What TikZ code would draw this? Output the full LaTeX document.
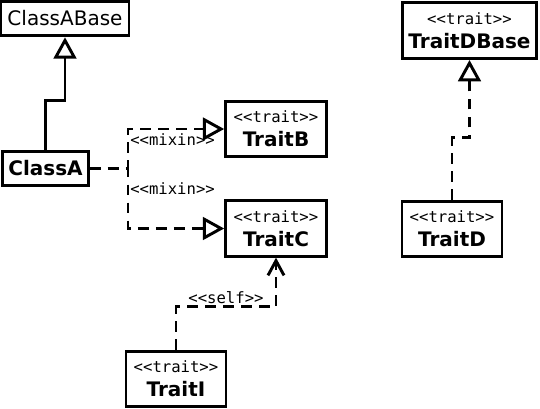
\documentclass[tikz,border=0pt]{standalone}
\usepackage{fontspec}
\setmainfont{DejaVu Sans}
\newfontfamily\monof{DejaVu Sans Mono}
\usetikzlibrary{arrows.meta}
\tikzset{
  cls/.style={draw, line width=2.2pt, inner sep=0pt, align=center, fill=white,
    font={\fontsize{15}{17}\selectfont}},
  lbl/.style={font={\monof\fontsize{11.7}{14}\selectfont}, inner sep=0pt},
  conn/.style={line width=2.2pt},
  dash7/.style={dash pattern=on 8pt off 5.5pt},
  gen/.style={-{Triangle[open, length=16pt, width=17pt, line width=2.2pt]}},
  dep/.style={-{Straight Barb[length=11pt, width=12pt, line width=2.2pt]}},
}
\newcommand{\stname}[1]{{\monof\fontsize{11.7}{14}\selectfont <<trait>>}\\[1pt]{\bfseries #1}}
\begin{document}
\begin{tikzpicture}[x=0.75pt, y=-0.75pt]
\useasboundingbox (0,0) rectangle (540,408);
\node[cls, minimum width=96pt, minimum height=26pt] (ClassABase) at (65,18.5) {ClassABase};
\node[cls, minimum width=64.5pt, minimum height=26pt, font={\fontsize{15}{17}\selectfont\bfseries}] (ClassA) at (45.5,168.5) {ClassA};
\node[cls, minimum width=75.5pt, minimum height=41.5pt] (TraitB) at (276,129) {\stname{TraitB}};
\node[cls, minimum width=75.5pt, minimum height=41.5pt] (TraitC) at (276,228.5) {\stname{TraitC}};
\node[cls, minimum width=101pt, minimum height=42pt] (TraitDBase) at (469.5,30.5) {\stname{TraitDBase}};
\node[cls, minimum width=75pt, minimum height=41.5pt] (TraitD) at (452,229) {\stname{TraitD}};
\node[cls, minimum width=75pt, minimum height=41.5pt] (TraitI) at (176,379) {\stname{TraitI}};

\draw[conn, gen] (ClassA.north) -- ++(0,-49) -| (ClassABase.south);
\draw[conn, dash7, gen] (ClassA.east) -- ++(38,0) |- (TraitB.west);
\draw[conn, dash7, gen] (ClassA.east) -- ++(38,0) |- (TraitC.west);
\draw[conn, dash7, dep] (TraitI.north) -- ++(0,-43) -| (TraitC.south);
\draw[conn, dash7, gen] (TraitD.north) -- ++(0,-62) -| (TraitDBase.south);

\node[lbl, anchor=west] (m1) at (130,140) {<<mixin>>};
\node[lbl, anchor=west] (m2) at (130,189) {<<mixin>>};
\node[lbl] (s1) at (226,298) {<<self>>};
\end{tikzpicture}
\end{document}
